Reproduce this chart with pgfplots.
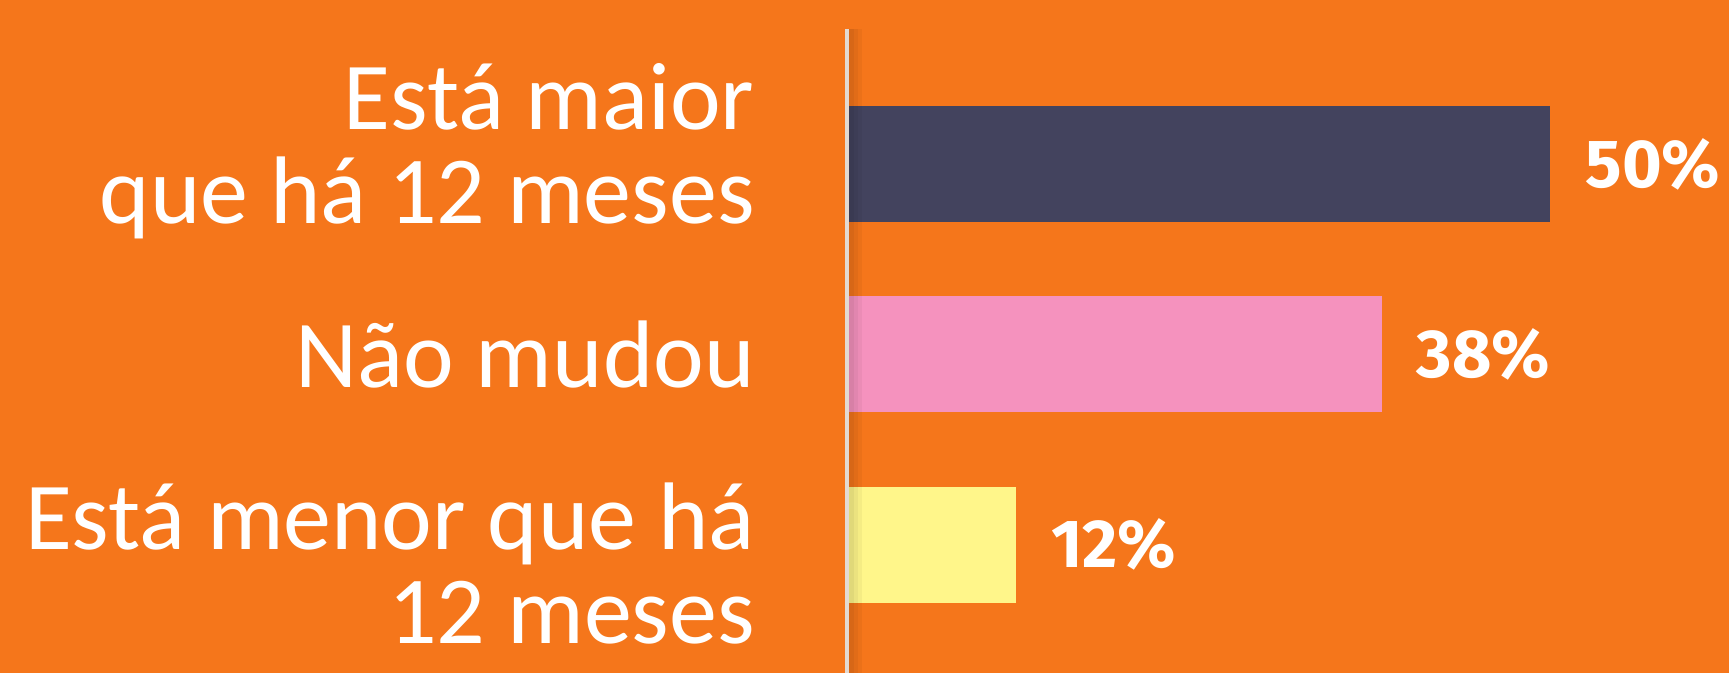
\documentclass[border=0pt]{standalone}
\usepackage{fontspec}
\setmainfont{Carlito}
\newfontfamily\pctfont[Numbers=Proportional]{Fira Sans}
\usepackage{pgfplots}
\pgfplotsset{compat=1.18}
\definecolor{bgorange}{HTML}{F5761B}
\definecolor{bardark}{HTML}{43435E}
\definecolor{barpink}{HTML}{F592BE}
\definecolor{baryellow}{HTML}{FFF68A}
\definecolor{axisline}{HTML}{E3DAD2}
\begin{document}
\begin{tikzpicture}
\path[use as bounding box, fill=bgorange] (0pt,0pt) rectangle (864.5pt,336.5pt);
\begin{axis}[
  at={(423.5pt,0pt)}, anchor=south west,
  scale only axis, width=441pt, height=322pt,
  xbar, bar shift=0pt, bar width=58pt,
  xmin=0, xmax=62.7,
  ymin=-0.674, ymax=2.71,
  axis x line=none,
  axis y line*=left,
  y axis line style={draw=axisline, line width=2pt, -},
  ytick={-0.1,1,2.07},
  yticklabels={{Está menor que há\\12 meses},{Não mudou},{Está maior\\que há 12 meses}},
  yticklabel style={align=right, anchor=east, text=white, xshift=-46pt, inner sep=0pt,
    font=\fontsize{48}{47}\selectfont},
  major tick length=0pt,
  point meta=x,
  /pgf/number format/assume math mode=true,
  nodes near coords={\pgfmathprintnumber{\pgfplotspointmeta}\%},
  nodes near coords style={anchor=west, inner sep=0pt, xshift=17.5pt, text=white,
    font=\pctfont\bfseries\fontsize{34}{36}\selectfont},
  clip=false,
]
\addplot[draw=none, fill=bardark] coordinates {(50,2)};
\addplot[draw=none, fill=barpink] coordinates {(38,1)};
\addplot[draw=none, fill=baryellow] coordinates {(12,0)};
\end{axis}
% shadow to the right of the axis line
\fill[black, opacity=0.12] (424.5pt,0pt) rectangle (427pt,322pt);
\fill[black, opacity=0.08] (427pt,0pt) rectangle (429pt,322pt);
\fill[black, opacity=0.04] (429pt,0pt) rectangle (431pt,322pt);
\draw[axisline, line width=2pt] (423.5pt,0pt) -- (423.5pt,322pt);
\end{tikzpicture}
\end{document}
